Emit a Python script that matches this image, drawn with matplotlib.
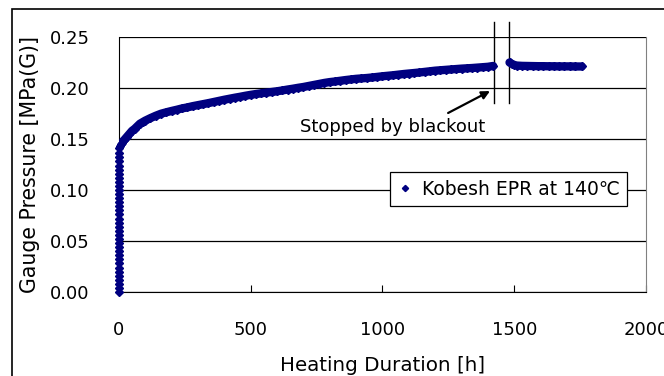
import numpy as np
import matplotlib
matplotlib.use("Agg")
import matplotlib.pyplot as plt
from matplotlib.patches import Rectangle

plt.rcParams['font.family'] = ['DejaVu Sans', 'Noto Sans CJK JP']

# initial pressurisation (h = 0)
rise_p = [0.000, 0.004, 0.008, 0.012, 0.016, 0.020, 0.024, 0.028, 0.032, 0.036,
          0.040, 0.044, 0.048, 0.052, 0.056, 0.060, 0.064, 0.068, 0.072, 0.076,
          0.080, 0.084, 0.088, 0.092, 0.096, 0.100, 0.104, 0.108, 0.112, 0.116,
          0.120, 0.124, 0.128, 0.132, 0.136]
rise_h = [0.0] * len(rise_p)

# heating until the blackout
hours_1 = [0, 4, 8, 12, 16, 20, 30, 40, 50, 60, 70, 80, 90, 100, 120, 140, 160,
           180, 200, 220, 240, 260, 280, 300, 320, 340, 360, 380, 400, 420, 440,
           460, 480, 500, 520, 540, 560, 580, 600, 620, 640, 660, 680, 700, 720,
           740, 760, 780, 800, 820, 840, 860, 880, 900, 920, 940, 960, 980, 1000,
           1020, 1040, 1060, 1080, 1100, 1120, 1140, 1160, 1180, 1200, 1220, 1240,
           1260, 1280, 1300, 1320, 1340, 1360, 1380, 1400, 1420]
press_1 = [0.141, 0.143, 0.145, 0.146, 0.148, 0.149, 0.152, 0.155, 0.158, 0.160,
           0.1625, 0.165, 0.1665, 0.168, 0.1705, 0.1728, 0.1748, 0.1762, 0.1775,
           0.1787, 0.1800, 0.1810, 0.1822, 0.1832, 0.1842, 0.1852, 0.1863, 0.1874,
           0.1885, 0.1895, 0.1905, 0.1914, 0.1924, 0.1933, 0.1941, 0.1948, 0.1955,
           0.1961, 0.1968, 0.1976, 0.1985, 0.1993, 0.2002, 0.2010, 0.2020, 0.2030,
           0.2040, 0.2050, 0.2058, 0.2064, 0.2071, 0.2078, 0.2084, 0.2090, 0.2094,
           0.2098, 0.2103, 0.2109, 0.2115, 0.2120, 0.2125, 0.2131, 0.2137, 0.2142,
           0.2147, 0.2152, 0.2158, 0.2164, 0.2170, 0.2174, 0.2178, 0.2182, 0.2186,
           0.2190, 0.2193, 0.2196, 0.2200, 0.2204, 0.2208, 0.2216]

# after restart
hours_2 = [1482, 1490, 1500, 1510, 1530, 1550, 1570, 1590, 1610, 1630, 1650,
           1670, 1690, 1710, 1730, 1756]
press_2 = [0.2250, 0.2238, 0.2226, 0.2220, 0.2217, 0.2216, 0.2215, 0.2214,
           0.2214, 0.2213, 0.2213, 0.2212, 0.2212, 0.2212, 0.2211, 0.2211]

blackout_h = [1422, 1479]

navy = '#000080'

fig = plt.figure(figsize=(6.64, 3.76), dpi=100)
fig.patches.append(Rectangle((12 / 664, -0.2), 1.2, 1.2 - 9 / 376,
                             transform=fig.transFigure, fill=False,
                             edgecolor='black', lw=1.2))
ax = fig.add_axes([0.179, 0.2234, 0.794, 0.6782])

h_all = rise_h + hours_1 + hours_2
p_all = rise_p + press_1 + press_2
ax.plot(hours_1, press_1, '-', color=navy, lw=6, solid_capstyle='round', zorder=3)
ax.plot(hours_2, press_2, '-', color=navy, lw=6, solid_capstyle='round', zorder=3)
ax.plot(h_all, p_all, 'D', color=navy, ms=4.5, mec=navy, zorder=4, clip_on=False,
        label='Kobesh EPR at 140\u2103')

for h in blackout_h:
    ax.plot([h, h], [0.1853, 0.2647], color='black', lw=1.0, clip_on=False, zorder=2)

ax.annotate('', xy=(1408, 0.197), xytext=(1249, 0.1755),
            arrowprops=dict(arrowstyle='-|>', color='black', lw=1.6,
                            mutation_scale=12, shrinkA=0, shrinkB=0))
ax.text(1040, 0.1618, 'Stopped by blackout', ha='center', va='center', fontsize=13)

ax.set_xlim(0, 2000)
ax.set_ylim(0, 0.25)
ax.set_xticks([0, 500, 1000, 1500, 2000])
ax.set_yticks([0, 0.05, 0.10, 0.15, 0.20, 0.25])
ax.set_yticklabels(['0.00', '0.05', '0.10', '0.15', '0.20', '0.25'])
ax.yaxis.grid(True, color='black', lw=0.9)
ax.set_axisbelow(True)
ax.tick_params(axis='x', direction='in', length=5, pad=21, labelsize=13)
ax.tick_params(axis='y', direction='in', length=0, pad=21, labelsize=13)

ax.spines['top'].set_visible(False)
ax.spines['right'].set_color('#808080')
ax.spines['left'].set_color('black')
ax.spines['bottom'].set_color('black')

ax.set_xlabel('Heating Duration [h]', fontsize=14.3, labelpad=12)
ax.set_ylabel('Gauge Pressure [MPa(G)]', fontsize=14.8, labelpad=7)

leg = ax.legend(loc='center left', bbox_to_anchor=(0.514, 0.402), fontsize=13.5,
                fancybox=False, edgecolor='black', framealpha=1, markerscale=0.7,
                handlelength=0.8, handletextpad=0.5, borderpad=0.4,
                borderaxespad=0, numpoints=1)
leg.get_frame().set_linewidth(0.9)

fig.savefig('out.png', dpi=100)
